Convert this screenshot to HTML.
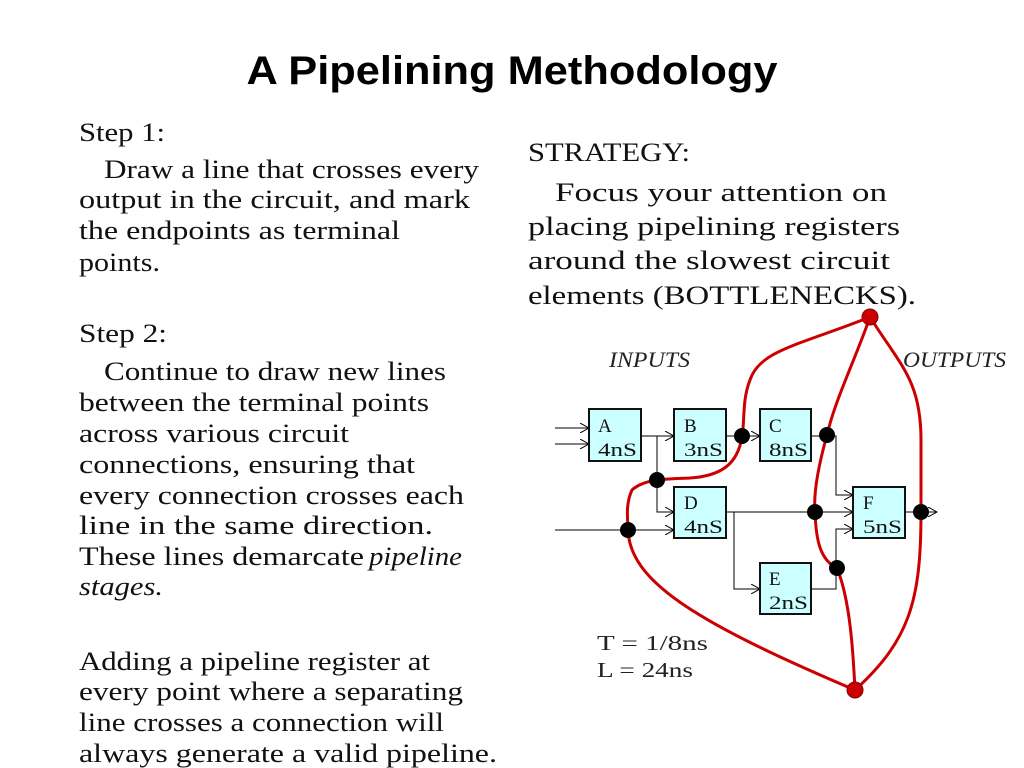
<!DOCTYPE html>
<html><head><meta charset="utf-8"><style>html,body{margin:0;padding:0;background:#fff}svg{display:block}</style></head>
<body>
<svg width="1024" height="768" viewBox="0 0 1024 768" xmlns="http://www.w3.org/2000/svg">
<defs><marker id="ar" markerWidth="10" markerHeight="10" refX="9" refY="5" orient="auto" markerUnits="userSpaceOnUse"><path d="M0,0 L9,5 L0,10" fill="none" stroke="#000" stroke-width="1"/></marker></defs>
<text x="512" y="84" text-anchor="middle" font-family="Liberation Sans, sans-serif" font-weight="bold" font-size="40" textLength="531" lengthAdjust="spacingAndGlyphs">A Pipelining Methodology</text>
<g font-family="Liberation Serif, serif" font-size="26" fill="#111">
<text x="79" y="141" textLength="86" lengthAdjust="spacingAndGlyphs">Step 1:</text>
<text x="104" y="178" textLength="375" lengthAdjust="spacingAndGlyphs">Draw a line that crosses every</text>
<text x="79" y="208" textLength="391" lengthAdjust="spacingAndGlyphs">output in the circuit, and mark</text>
<text x="79" y="239" textLength="321" lengthAdjust="spacingAndGlyphs">the endpoints as terminal</text>
<text x="79" y="271" textLength="81" lengthAdjust="spacingAndGlyphs">points.</text>
<text x="79" y="342" textLength="88" lengthAdjust="spacingAndGlyphs">Step 2:</text>
<text x="104" y="380" textLength="342" lengthAdjust="spacingAndGlyphs">Continue to draw new lines</text>
<text x="79" y="411" textLength="350" lengthAdjust="spacingAndGlyphs">between the terminal points</text>
<text x="79" y="442" textLength="270" lengthAdjust="spacingAndGlyphs">across various circuit</text>
<text x="79" y="473" textLength="336" lengthAdjust="spacingAndGlyphs">connections, ensuring that</text>
<text x="79" y="504" textLength="385" lengthAdjust="spacingAndGlyphs">every  connection crosses each</text>
<text x="79" y="534" textLength="354" lengthAdjust="spacingAndGlyphs">line in the same direction.</text>
<text x="79" y="565" textLength="285" lengthAdjust="spacingAndGlyphs">These lines demarcate</text>
<text x="369" y="565" textLength="93" lengthAdjust="spacingAndGlyphs" font-style="italic">pipeline</text>
<text x="79" y="595" textLength="84" lengthAdjust="spacingAndGlyphs" font-style="italic">stages.</text>
<text x="79" y="670" textLength="351" lengthAdjust="spacingAndGlyphs">Adding a pipeline register at</text>
<text x="79" y="700" textLength="384" lengthAdjust="spacingAndGlyphs">every point where a separating</text>
<text x="79" y="731" textLength="365" lengthAdjust="spacingAndGlyphs">line crosses a connection will</text>
<text x="79" y="762" textLength="418" lengthAdjust="spacingAndGlyphs">always generate a valid pipeline.</text>
<text x="528" y="161" textLength="162" lengthAdjust="spacingAndGlyphs">STRATEGY:</text>
<text x="555" y="201" textLength="332" lengthAdjust="spacingAndGlyphs">Focus your attention on</text>
<text x="528" y="235" textLength="372" lengthAdjust="spacingAndGlyphs">placing pipelining registers</text>
<text x="528" y="269" textLength="362" lengthAdjust="spacingAndGlyphs">around the slowest circuit</text>
<text x="528" y="304" textLength="388" lengthAdjust="spacingAndGlyphs">elements (BOTTLENECKS).</text>
</g>
<g font-family="Liberation Serif, serif" font-style="italic" font-size="22" fill="#222">
<text x="609" y="367" textLength="81" lengthAdjust="spacingAndGlyphs">INPUTS</text>
<text x="903" y="367" textLength="103" lengthAdjust="spacingAndGlyphs">OUTPUTS</text>
</g>
<g font-family="Liberation Serif, serif" font-size="21" fill="#222">
<text x="597" y="650" textLength="111" lengthAdjust="spacingAndGlyphs">T = 1/8ns</text>
<text x="597" y="677" textLength="96" lengthAdjust="spacingAndGlyphs">L = 24ns</text>
</g>
<g stroke="#000" stroke-width="1" fill="none">
<path d="M555,428 H589" marker-end="url(#ar)"/>
<path d="M555,444 H589" marker-end="url(#ar)"/>
<path d="M641,436 H674" marker-end="url(#ar)"/>
<path d="M657,436 V512 H674" marker-end="url(#ar)"/>
<path d="M555,530 H674" marker-end="url(#ar)"/>
<path d="M726,436 H760" marker-end="url(#ar)"/>
<path d="M811,436 H836 V495 H853" marker-end="url(#ar)"/>
<path d="M726,512 H853" marker-end="url(#ar)"/>
<path d="M734,512 V589 H760" marker-end="url(#ar)"/>
<path d="M811,589 H836 V529 H853" marker-end="url(#ar)"/>
<path d="M905,512 H937" marker-end="url(#ar)"/>
</g>
<g stroke="#111" stroke-width="2" fill="#ccffff">
<rect x="589" y="409" width="52" height="52"/>
<rect x="674" y="409" width="52" height="52"/>
<rect x="760" y="409" width="51" height="52"/>
<rect x="674" y="487" width="52" height="51"/>
<rect x="760" y="563" width="51" height="51"/>
<rect x="853" y="487" width="52" height="51"/>
</g>
<g font-family="Liberation Serif, serif" font-size="19" fill="#111">
<text x="598" y="432">A</text><text x="598" y="456" textLength="39" lengthAdjust="spacingAndGlyphs">4nS</text>
<text x="684" y="432">B</text><text x="684" y="456" textLength="39" lengthAdjust="spacingAndGlyphs">3nS</text>
<text x="769" y="432">C</text><text x="769" y="456" textLength="39" lengthAdjust="spacingAndGlyphs">8nS</text>
<text x="684" y="509">D</text><text x="684" y="533" textLength="39" lengthAdjust="spacingAndGlyphs">4nS</text>
<text x="769" y="585">E</text><text x="769" y="609" textLength="39" lengthAdjust="spacingAndGlyphs">2nS</text>
<text x="863" y="509">F</text><text x="863" y="533" textLength="39" lengthAdjust="spacingAndGlyphs">5nS</text>
</g>
<g stroke="#cc0000" stroke-width="3" fill="none">
<path d="M870,317 C800,345 760,350 750,380 C742,400 745,420 742,436 C738,465 720,476 690,478 C670,479 645,478 632,490 C625,505 628,520 628,530 C630,580 690,620 855,690"/>
<path d="M870,317 C855,360 835,400 827,435 C820,460 813,490 815,512 C816,540 820,560 837,568 C850,600 853,650 855,690"/>
<path d="M870,317 C900,365 921,380 921,440 L921,512 C921,600 910,640 855,690"/>
</g>
<g fill="#000">
<circle cx="742" cy="436" r="8"/><circle cx="657" cy="480" r="8"/><circle cx="628" cy="530" r="8"/>
<circle cx="827" cy="435" r="8"/><circle cx="815" cy="512" r="8"/><circle cx="837" cy="568" r="8"/><circle cx="921" cy="512" r="8"/>
</g>
<g fill="#cc0000" stroke="#800" stroke-width="1">
<circle cx="870" cy="317" r="8"/><circle cx="855" cy="690" r="8"/>
</g>
</svg>
</body></html>
